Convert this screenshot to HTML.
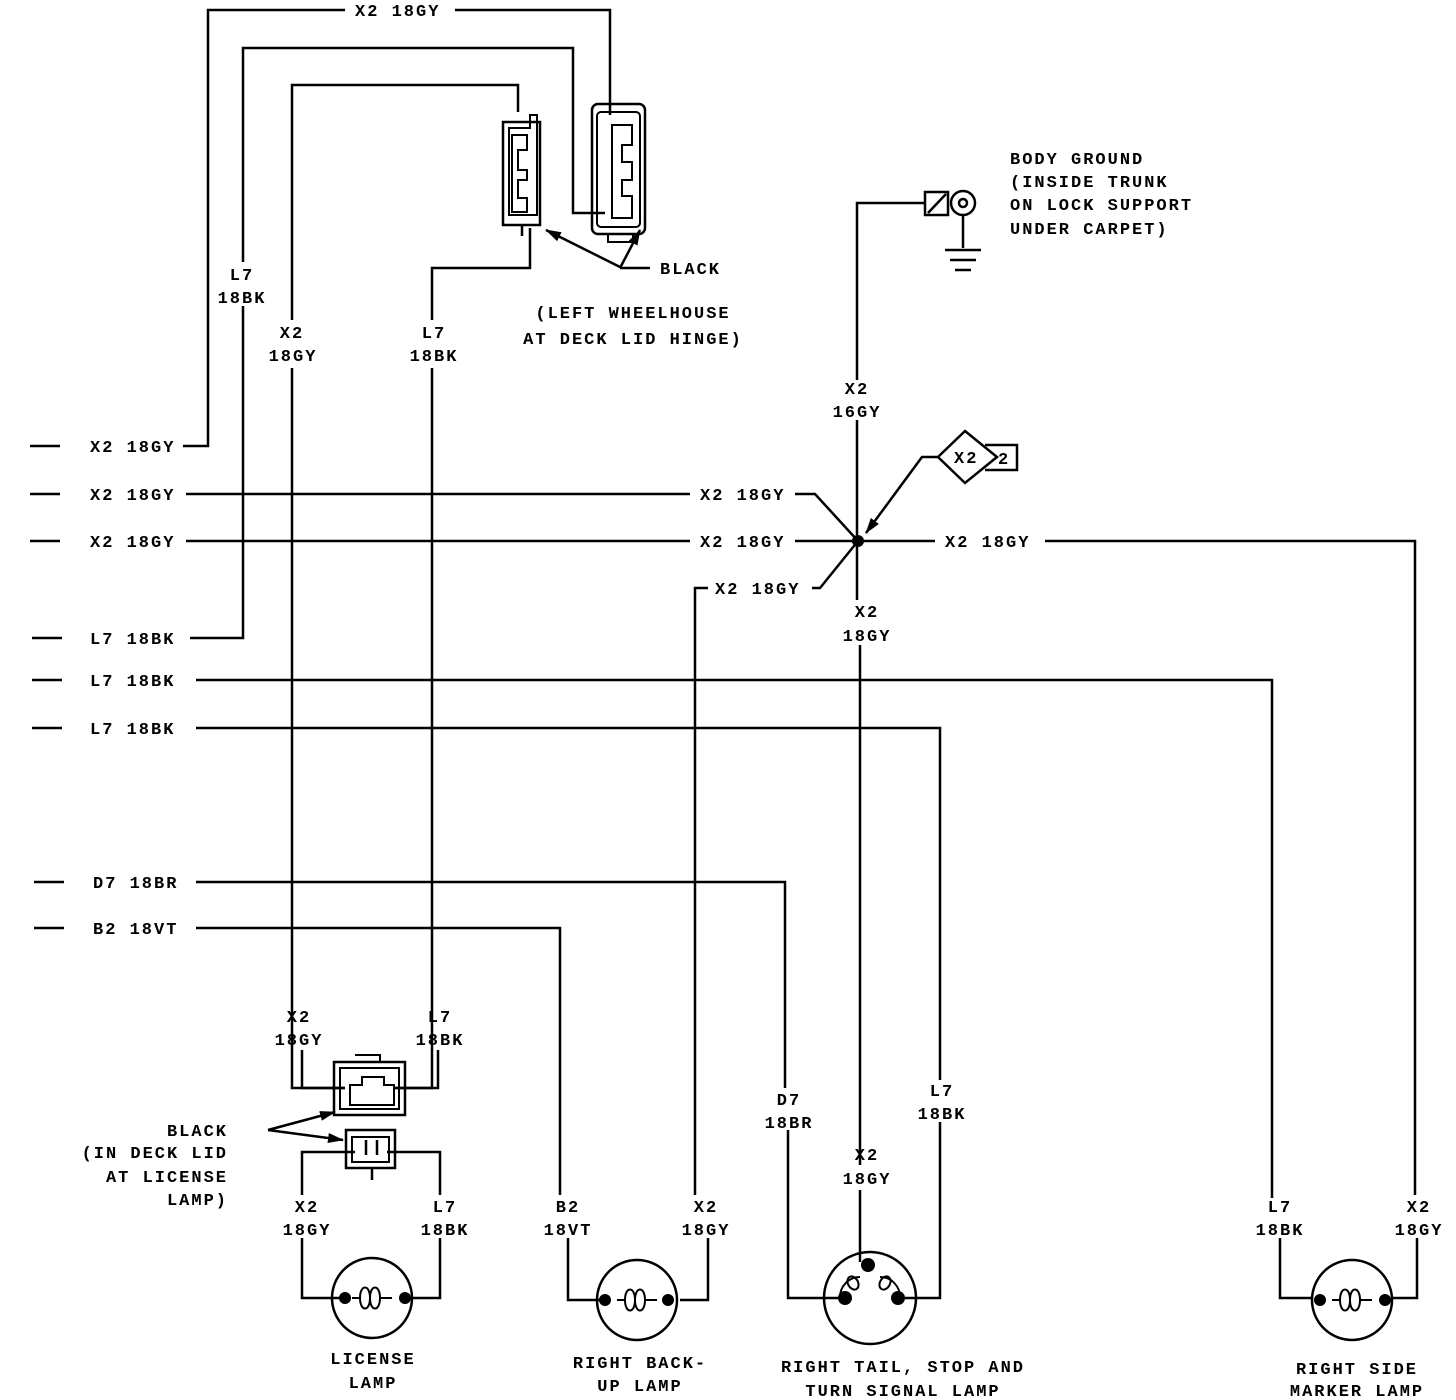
<!DOCTYPE html>
<html><head><style>
html,body{margin:0;padding:0;background:#fff}
svg{display:block}
text{font-family:"Liberation Mono",monospace;font-weight:bold;font-size:17px;letter-spacing:2px;fill:#000}
</style></head><body>
<svg width="1456" height="1400" viewBox="0 0 1456 1400" xmlns="http://www.w3.org/2000/svg">
<defs><marker id="a2" markerWidth="16" markerHeight="10" refX="15" refY="5" orient="auto" markerUnits="userSpaceOnUse"><path d="M0,0 L16,5 L0,10z" fill="#000"/></marker></defs>
<g stroke="#000" stroke-width="2.5" fill="none">
<path d="M30 446H60M30 494H60M30 541H60M32 638H62M32 680H62M32 728H62M34 882H64M34 928H64"/>
<path d="M183 446H208V10H345M455 10H610V115"/>
<path d="M190 638H243V306M243 262V48H573V213H605"/>
<path d="M292 320V85H518V112"/>
<path d="M292 368V1088H345"/>
<path d="M432 320V268H530V228"/>
<path d="M432 368V1088H395"/>
<rect x="503" y="122" width="37" height="103"/>
<path d="M509 128H530V115H537V215H509Z" stroke-width="2"/>
<path d="M512 135H527V150H518V170H527V180H518V198H527V212H512Z" stroke-width="2"/>
<path d="M522 225V236"/>
<rect x="592" y="104" width="53" height="130" rx="6"/>
<rect x="597" y="112" width="43" height="115" rx="4" stroke-width="2"/>
<path d="M612 125H632V145H622V162H632V180H622V196H632V218H612Z" stroke-width="2"/>
<rect x="608" y="234" width="25" height="8" stroke-width="2"/>
<path d="M622 268L546 230" marker-end="url(#a2)"/>
<path d="M620 268L640 230" marker-end="url(#a2)"/>
<path d="M620 268H650"/>
<path d="M857 380V203H925"/>
<rect x="925" y="192" width="23" height="23"/>
<path d="M928 213L946 194"/>
<circle cx="963" cy="203" r="12"/>
<circle cx="963" cy="203" r="4"/>
<path d="M963 215V248M945 250H981M950 260H976M955 270H971"/>
<path d="M857 420V541V600M860 645V1165M860 1190V1262"/>
<path d="M186 494H690M795 494H815L858 541"/>
<path d="M186 541H690M795 541H935M1045 541H1415V1195M1417 1238V1298H1392"/>
<path d="M812 588H820L858 541"/>
<path d="M695 590V588H708M695 588V1195M708 1238V1300H680"/>
<path d="M196 680H1272V1198M1280 1238V1298H1312"/>
<path d="M196 728H940V1080M940 1122V1298H905"/>
<path d="M196 882H785V1088M788 1130V1298H838"/>
<path d="M196 928H560V1195M568 1238V1300H600"/>
<path d="M965 431L997 457L965 483L938 457Z"/>
<path d="M985 445H1017V470H985"/>
<path d="M938 457H922L866 533" marker-end="url(#a2)"/>
<path d="M302 1050V1088H345M438 1050V1088H395" />
<rect x="334" y="1062" width="71" height="53"/>
<rect x="340" y="1068" width="59" height="41" stroke-width="2"/>
<path d="M355 1055H380V1062" stroke-width="2"/>
<path d="M350 1085H362V1077H384V1085H394V1105H350Z" stroke-width="2"/>
<rect x="346" y="1130" width="49" height="38"/>
<path d="M352 1137H389V1162H352Z" stroke-width="2"/>
<path d="M366 1140V1155M377 1140V1155M372 1168V1180"/>
<path d="M302 1195V1152H355M440 1195V1152H387"/>
<path d="M268 1130L335 1112" marker-end="url(#a2)"/>
<path d="M268 1130L343 1140" marker-end="url(#a2)"/>
<path d="M302 1238V1298H345M440 1238V1298H405"/>
<circle cx="372" cy="1298" r="40"/>
<circle cx="637" cy="1300" r="40"/>
<circle cx="870" cy="1298" r="46"/>
<circle cx="1352" cy="1300" r="40"/>
<path d="M360 1298c0-14 10-14 10 0s-10 14-10 0M370 1298c0-14 10-14 10 0s-10 14-10 0M360 1298H352M380 1298H392" stroke-width="2"/>
<path d="M625 1300c0-14 10-14 10 0s-10 14-10 0M635 1300c0-14 10-14 10 0s-10 14-10 0M625 1300H617M645 1300H657" stroke-width="2"/>
<path d="M1340 1300c0-14 10-14 10 0s-10 14-10 0M1350 1300c0-14 10-14 10 0s-10 14-10 0M1340 1300H1332M1360 1300H1372" stroke-width="2"/>
<path d="M840 1297c0-10 8-20 20-20M880 1277c12 0 20 10 20 20" stroke-width="2"/>
<ellipse cx="853" cy="1283" rx="5" ry="7" stroke-width="2" transform="rotate(-30 853 1283)"/>
<ellipse cx="885" cy="1283" rx="5" ry="7" stroke-width="2" transform="rotate(30 885 1283)"/>
</g>
<g fill="#000">
<circle cx="858" cy="541" r="6"/>
<circle cx="345" cy="1298" r="6"/><circle cx="405" cy="1298" r="6"/>
<circle cx="605" cy="1300" r="6"/><circle cx="668" cy="1300" r="6"/>
<circle cx="845" cy="1298" r="7"/><circle cx="898" cy="1298" r="7"/><circle cx="868" cy="1265" r="7"/>
<circle cx="1320" cy="1300" r="6"/><circle cx="1385" cy="1300" r="6"/>
</g>
<g>
<text x="90" y="452">X2 18GY</text>
<text x="90" y="500">X2 18GY</text>
<text x="90" y="547">X2 18GY</text>
<text x="90" y="644">L7 18BK</text>
<text x="90" y="686">L7 18BK</text>
<text x="90" y="734">L7 18BK</text>
<text x="93" y="888">D7 18BR</text>
<text x="93" y="934">B2 18VT</text>
<text x="355" y="16">X2 18GY</text>
<g text-anchor="middle">
<text x="242" y="280">L7</text><text x="242" y="303">18BK</text>
<text x="292" y="338">X2</text><text x="293" y="361">18GY</text>
<text x="434" y="338">L7</text><text x="434" y="361">18BK</text>
<text x="857" y="394">X2</text><text x="857" y="417">16GY</text>
<text x="867" y="617">X2</text><text x="867" y="641">18GY</text>
<text x="299" y="1022">X2</text><text x="299" y="1045">18GY</text>
<text x="440" y="1022">L7</text><text x="440" y="1045">18BK</text>
<text x="307" y="1212">X2</text><text x="307" y="1235">18GY</text>
<text x="445" y="1212">L7</text><text x="445" y="1235">18BK</text>
<text x="568" y="1212">B2</text><text x="568" y="1235">18VT</text>
<text x="706" y="1212">X2</text><text x="706" y="1235">18GY</text>
<text x="789" y="1105">D7</text><text x="789" y="1128">18BR</text>
<text x="942" y="1096">L7</text><text x="942" y="1119">18BK</text>
<text x="867" y="1160">X2</text><text x="867" y="1184">18GY</text>
<text x="1280" y="1212">L7</text><text x="1280" y="1235">18BK</text>
<text x="1419" y="1212">X2</text><text x="1419" y="1235">18GY</text>
<text x="373" y="1364">LICENSE</text><text x="373" y="1388">LAMP</text>
<text x="640" y="1368">RIGHT BACK-</text><text x="640" y="1391">UP LAMP</text>
<text x="903" y="1372">RIGHT TAIL, STOP AND</text><text x="903" y="1396">TURN SIGNAL LAMP</text>
<text x="1357" y="1374">RIGHT SIDE</text><text x="1357" y="1396">MARKER LAMP</text>
<text x="633" y="318">(LEFT WHEELHOUSE</text><text x="633" y="344">AT DECK LID HINGE)</text>
</g>
<text x="700" y="500">X2 18GY</text>
<text x="700" y="547">X2 18GY</text>
<text x="945" y="547">X2 18GY</text>
<text x="715" y="594">X2 18GY</text>
<text x="954" y="463">X2</text><text x="998" y="464">2</text>
<text x="660" y="274">BLACK</text>
<text x="1010" y="164">BODY GROUND</text>
<text x="1010" y="187">(INSIDE TRUNK</text>
<text x="1010" y="210">ON LOCK SUPPORT</text>
<text x="1010" y="234">UNDER CARPET)</text>
<text x="228" y="1136" text-anchor="end">BLACK</text>
<text x="228" y="1158" text-anchor="end">(IN DECK LID</text>
<text x="228" y="1182" text-anchor="end">AT LICENSE</text>
<text x="228" y="1205" text-anchor="end">LAMP)</text>
</g>
</svg>
</body></html>
